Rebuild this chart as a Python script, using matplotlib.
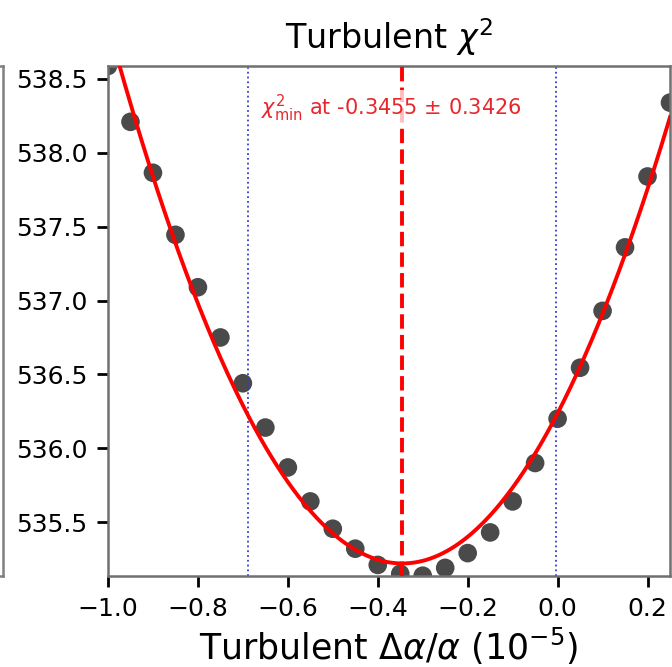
import numpy as np
import matplotlib
matplotlib.use("Agg")
import matplotlib.pyplot as plt

# chi^2 scan points
dalpha = [-1.00, -0.95, -0.90, -0.85, -0.80, -0.75, -0.70, -0.65, -0.60, -0.55,
          -0.50, -0.45, -0.40, -0.35, -0.30, -0.25, -0.20, -0.15, -0.10, -0.05,
          0.00, 0.05, 0.10, 0.15, 0.20, 0.25]
chi2 = [538.588, 538.21, 537.865, 537.445, 537.09, 536.75, 536.44, 536.14, 535.87, 535.64,
        535.455, 535.32, 535.21, 535.15, 535.137, 535.19, 535.29, 535.43, 535.64, 535.90,
        536.20, 536.545, 536.93, 537.36, 537.84, 538.34]

# parabola fit result
x_min = -0.3455
sigma = 0.3426
chi2_min = 535.22

title = r"Turbulent $\chi^2$"
xlabel = r"Turbulent $\Delta\alpha/\alpha$ ($10^{-5}$)"

W, H = 672, 667
fig = plt.figure(figsize=(W / 100, H / 100), dpi=100)

# neighbouring panel, only its right edge is in the picture
ax0 = fig.add_axes([-0.6, 91.3 / H, 0.6 + 3 / W, 509.7 / H])
ax0.set_xticks([])
ax0.set_yticks([])
for s in ax0.spines.values():
    s.set_color("#808080")
    s.set_linewidth(1.8)

ax = fig.add_axes([108 / W, 91.3 / H, 562 / W, 509.7 / H])

xx = np.linspace(-1.0, 0.25, 400)
yy = chi2_min + (xx - x_min) ** 2 / sigma ** 2

ax.scatter(dalpha, chi2, s=180, color="#2a2a2a", alpha=0.85, zorder=2, edgecolors="none")
ax.plot(xx, yy, color="red", lw=2.8, zorder=3)
ax.axvline(x_min, color="red", ls="--", lw=2.8, zorder=3)
ax.axvline(x_min - sigma, color="#3a3ad0", ls=":", lw=1.3)
ax.axvline(x_min + sigma, color="#3a3ad0", ls=":", lw=1.3)

ax.text(-0.66, 538.30, r"$\chi^2_{\rm min}$ at -0.3455 $\pm$ 0.3426",
        color="#e8262b", fontsize=15, va="center", ha="left", zorder=4,
        bbox=dict(facecolor="white", alpha=0.75, edgecolor="none", pad=2))

ax.set_xlim(-1.0, 0.25)
ax.set_ylim(min(chi2), max(chi2))
ax.set_xticks([-1.0, -0.8, -0.6, -0.4, -0.2, 0.0, 0.2])
ax.set_yticks([535.5, 536.0, 536.5, 537.0, 537.5, 538.0, 538.5])
ax.tick_params(labelsize=18, length=8, width=2, pad=7)
for s in ax.spines.values():
    s.set_color("#707070")
    s.set_linewidth(1.8)

ax.set_title(title, fontsize=24, pad=12)
ax.set_xlabel(xlabel, fontsize=25, labelpad=4)

fig.savefig("out.png", dpi=100)
